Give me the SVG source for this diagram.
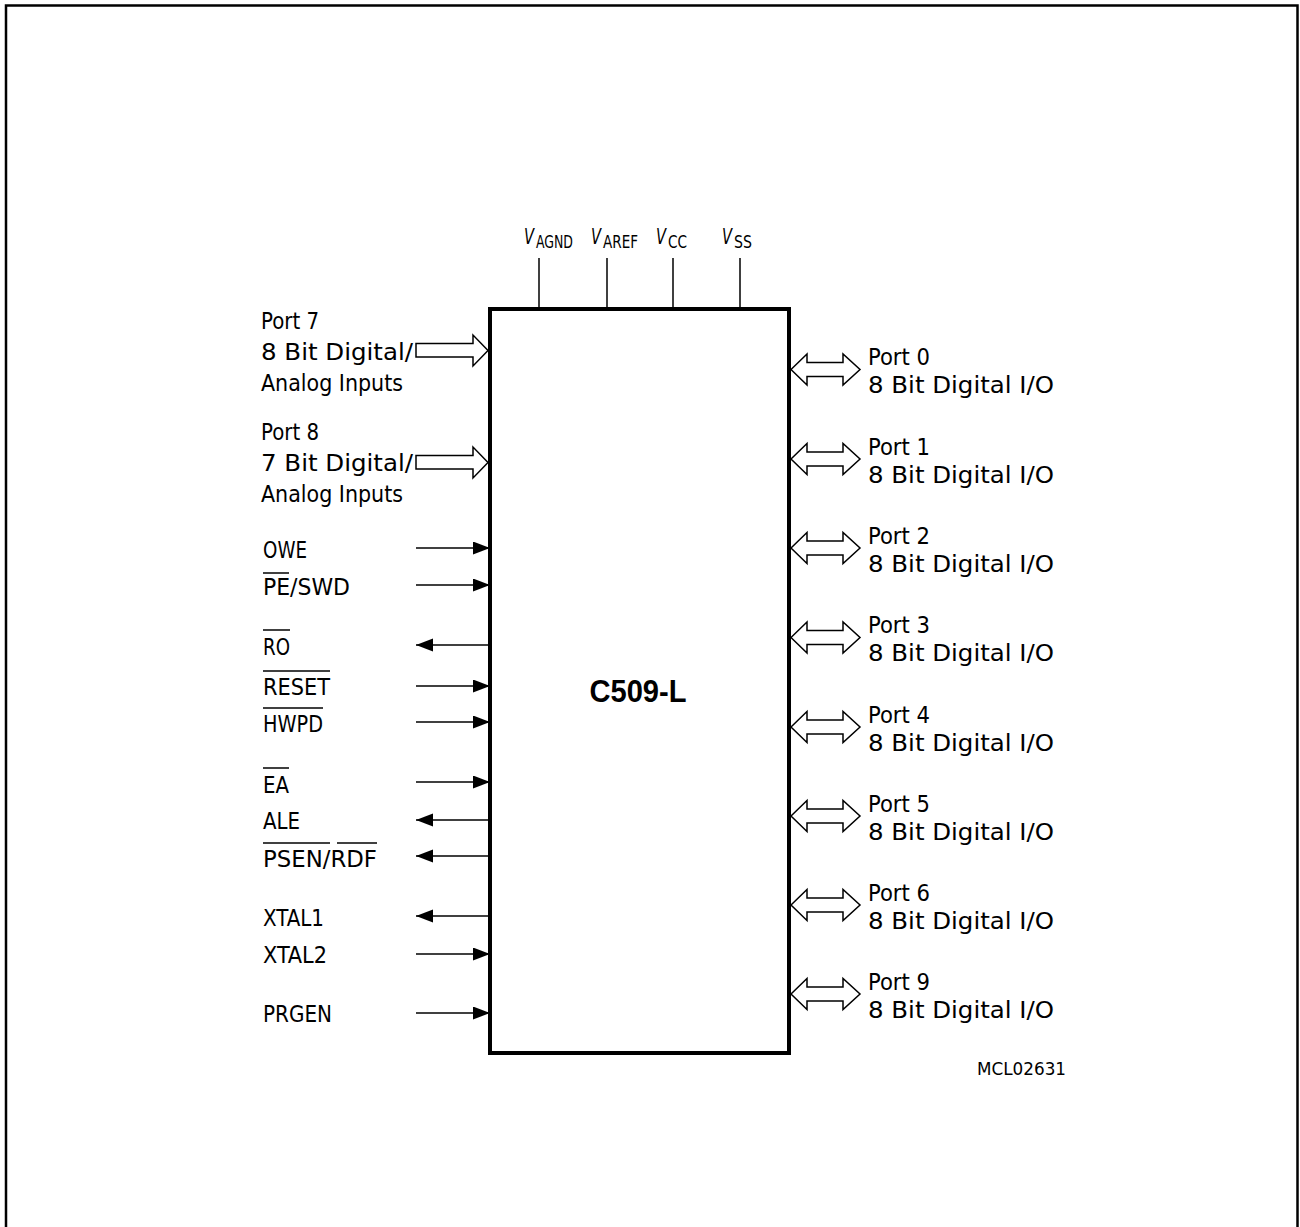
<svg xmlns="http://www.w3.org/2000/svg" width="1300" height="1227" viewBox="0 0 1300 1227">
<defs>
<style>
.t{font-family:"DejaVu Sans Condensed","DejaVu Sans",sans-serif;font-stretch:condensed;font-size:23px;fill:#000}
.s{font-family:"DejaVu Sans Condensed","DejaVu Sans",sans-serif;font-stretch:condensed;fill:#000}
.ln{stroke:#000;stroke-width:1.5;fill:none}
.ob{stroke:#000;stroke-width:1.5}
.ha{fill:#fff;stroke:#000;stroke-width:1.5;stroke-linejoin:miter}
</style>
<marker id="ah" markerUnits="userSpaceOnUse" markerWidth="18" markerHeight="14" refX="17" refY="6.5" orient="auto">
<path d="M0,0 L17,6.5 L0,13 Z" fill="#000"/>
</marker>
</defs>
<rect width="1300" height="1227" fill="#fff"/>
<path d="M6,1227 V5.5 H1297.5 V1227" fill="none" stroke="#000" stroke-width="2.5"/>

<g id="chip">
<rect x="490" y="309" width="299" height="744" fill="#fff" stroke="#000" stroke-width="4"/>
<text x="638" y="702" text-anchor="middle" font-family="Liberation Sans, Arial, sans-serif" font-weight="bold" font-size="31" textLength="97" lengthAdjust="spacingAndGlyphs">C509-L</text>
</g>

<g id="connectors">
<line class="ln" x1="539" y1="258" x2="539" y2="309"/>
<line class="ln" x1="607" y1="258" x2="607" y2="309"/>
<line class="ln" x1="673" y1="258" x2="673" y2="309"/>
<line class="ln" x1="740" y1="258" x2="740" y2="309"/>
<polygon class="ha" points="416,343.5 473,343.5 473,335 488,350.5 473,366 473,357 416,357"/>
<polygon class="ha" points="416,455.5 473,455.5 473,447 488,462.5 473,478 473,469 416,469"/>
<line class="ln" x1="416" y1="548" x2="490" y2="548" marker-end="url(#ah)"/>
<line class="ln" x1="416" y1="585" x2="490" y2="585" marker-end="url(#ah)"/>
<line class="ln" x1="490" y1="645" x2="416" y2="645" marker-end="url(#ah)"/>
<line class="ln" x1="416" y1="686" x2="490" y2="686" marker-end="url(#ah)"/>
<line class="ln" x1="416" y1="722" x2="490" y2="722" marker-end="url(#ah)"/>
<line class="ln" x1="416" y1="782" x2="490" y2="782" marker-end="url(#ah)"/>
<line class="ln" x1="490" y1="820" x2="416" y2="820" marker-end="url(#ah)"/>
<line class="ln" x1="490" y1="856" x2="416" y2="856" marker-end="url(#ah)"/>
<line class="ln" x1="490" y1="916" x2="416" y2="916" marker-end="url(#ah)"/>
<line class="ln" x1="416" y1="954" x2="490" y2="954" marker-end="url(#ah)"/>
<line class="ln" x1="416" y1="1013" x2="490" y2="1013" marker-end="url(#ah)"/>
<g id="bidir">
<polygon class="ha" transform="translate(0,369.5)" points="791,0 807,-15.5 807,-7 843,-7 843,-15.5 860,0 843,15.5 843,7 807,7 807,15.5"/>
<polygon class="ha" transform="translate(0,459)" points="791,0 807,-15.5 807,-7 843,-7 843,-15.5 860,0 843,15.5 843,7 807,7 807,15.5"/>
<polygon class="ha" transform="translate(0,548)" points="791,0 807,-15.5 807,-7 843,-7 843,-15.5 860,0 843,15.5 843,7 807,7 807,15.5"/>
<polygon class="ha" transform="translate(0,637.5)" points="791,0 807,-15.5 807,-7 843,-7 843,-15.5 860,0 843,15.5 843,7 807,7 807,15.5"/>
<polygon class="ha" transform="translate(0,727)" points="791,0 807,-15.5 807,-7 843,-7 843,-15.5 860,0 843,15.5 843,7 807,7 807,15.5"/>
<polygon class="ha" transform="translate(0,816)" points="791,0 807,-15.5 807,-7 843,-7 843,-15.5 860,0 843,15.5 843,7 807,7 807,15.5"/>
<polygon class="ha" transform="translate(0,905)" points="791,0 807,-15.5 807,-7 843,-7 843,-15.5 860,0 843,15.5 843,7 807,7 807,15.5"/>
<polygon class="ha" transform="translate(0,994)" points="791,0 807,-15.5 807,-7 843,-7 843,-15.5 860,0 843,15.5 843,7 807,7 807,15.5"/>
</g>
</g>

<g id="supply">
<g id="vagnd"><text class="s" x="524" y="244" font-size="21" font-style="italic" textLength="10" lengthAdjust="spacingAndGlyphs">V</text><text class="s" x="536" y="248" font-size="17" textLength="37" lengthAdjust="spacingAndGlyphs">AGND</text></g>
<g id="varef"><text class="s" x="591" y="244" font-size="21" font-style="italic" textLength="10" lengthAdjust="spacingAndGlyphs">V</text><text class="s" x="603" y="248" font-size="17" textLength="35" lengthAdjust="spacingAndGlyphs">AREF</text></g>
<g id="vcc"><text class="s" x="656" y="244" font-size="21" font-style="italic" textLength="10" lengthAdjust="spacingAndGlyphs">V</text><text class="s" x="668" y="248" font-size="17" textLength="19" lengthAdjust="spacingAndGlyphs">CC</text></g>
<g id="vss"><text class="s" x="722" y="244" font-size="21" font-style="italic" textLength="10" lengthAdjust="spacingAndGlyphs">V</text><text class="s" x="734" y="248" font-size="17" textLength="18" lengthAdjust="spacingAndGlyphs">SS</text></g>
</g>

<g id="port7">
<text class="t" x="261" y="329" textLength="58" lengthAdjust="spacingAndGlyphs">Port 7</text>
<text class="t" x="261" y="360" textLength="152" lengthAdjust="spacingAndGlyphs">8 Bit  Digital/</text>
<text class="t" x="261" y="391" textLength="142" lengthAdjust="spacingAndGlyphs">Analog  Inputs</text>
</g>
<g id="port8">
<text class="t" x="261" y="440" textLength="58" lengthAdjust="spacingAndGlyphs">Port 8</text>
<text class="t" x="261" y="471" textLength="152" lengthAdjust="spacingAndGlyphs">7 Bit  Digital/</text>
<text class="t" x="261" y="502" textLength="142" lengthAdjust="spacingAndGlyphs">Analog  Inputs</text>
</g>

<g id="owe"><text class="t" x="263" y="558" textLength="44" lengthAdjust="spacingAndGlyphs">OWE</text></g>
<g id="pe"><text class="t" x="263" y="595" textLength="87" lengthAdjust="spacingAndGlyphs">PE/SWD</text><line class="ob" x1="263" y1="573" x2="289" y2="573"/></g>
<g id="ro"><text class="t" x="263" y="655" textLength="27" lengthAdjust="spacingAndGlyphs">RO</text><line class="ob" x1="263" y1="630" x2="290" y2="630"/></g>
<g id="reset"><text class="t" x="263" y="695" textLength="67" lengthAdjust="spacingAndGlyphs">RESET</text><line class="ob" x1="263" y1="671" x2="330" y2="671"/></g>
<g id="hwpd"><text class="t" x="263" y="732" textLength="60" lengthAdjust="spacingAndGlyphs">HWPD</text><line class="ob" x1="263" y1="708" x2="323" y2="708"/></g>
<g id="ea"><text class="t" x="263" y="793" textLength="26" lengthAdjust="spacingAndGlyphs">EA</text><line class="ob" x1="263" y1="768" x2="289" y2="768"/></g>
<g id="ale"><text class="t" x="263" y="829" textLength="37" lengthAdjust="spacingAndGlyphs">ALE</text></g>
<g id="psen"><text class="t" x="263" y="867" textLength="114" lengthAdjust="spacingAndGlyphs">PSEN/RDF</text><line class="ob" x1="263" y1="843" x2="330" y2="843"/><line class="ob" x1="337" y1="843" x2="377" y2="843"/></g>
<g id="xtal1"><text class="t" x="263" y="926" textLength="61" lengthAdjust="spacingAndGlyphs">XTAL1</text></g>
<g id="xtal2"><text class="t" x="263" y="963" textLength="64" lengthAdjust="spacingAndGlyphs">XTAL2</text></g>
<g id="prgen"><text class="t" x="263" y="1022" textLength="69" lengthAdjust="spacingAndGlyphs">PRGEN</text></g>

<g id="port0"><text class="t" x="868" y="365" textLength="62" lengthAdjust="spacingAndGlyphs">Port 0</text><text class="t" x="868" y="393" textLength="186" lengthAdjust="spacingAndGlyphs">8 Bit  Digital  I/O</text></g>
<g id="port1"><text class="t" x="868" y="454.5" textLength="62" lengthAdjust="spacingAndGlyphs">Port 1</text><text class="t" x="868" y="482.5" textLength="186" lengthAdjust="spacingAndGlyphs">8 Bit  Digital  I/O</text></g>
<g id="port2"><text class="t" x="868" y="543.5" textLength="62" lengthAdjust="spacingAndGlyphs">Port 2</text><text class="t" x="868" y="571.5" textLength="186" lengthAdjust="spacingAndGlyphs">8 Bit  Digital  I/O</text></g>
<g id="port3"><text class="t" x="868" y="633" textLength="62" lengthAdjust="spacingAndGlyphs">Port 3</text><text class="t" x="868" y="661" textLength="186" lengthAdjust="spacingAndGlyphs">8 Bit  Digital  I/O</text></g>
<g id="port4"><text class="t" x="868" y="722.5" textLength="62" lengthAdjust="spacingAndGlyphs">Port 4</text><text class="t" x="868" y="750.5" textLength="186" lengthAdjust="spacingAndGlyphs">8 Bit  Digital  I/O</text></g>
<g id="port5"><text class="t" x="868" y="811.5" textLength="62" lengthAdjust="spacingAndGlyphs">Port 5</text><text class="t" x="868" y="839.5" textLength="186" lengthAdjust="spacingAndGlyphs">8 Bit  Digital  I/O</text></g>
<g id="port6"><text class="t" x="868" y="900.5" textLength="62" lengthAdjust="spacingAndGlyphs">Port 6</text><text class="t" x="868" y="928.5" textLength="186" lengthAdjust="spacingAndGlyphs">8 Bit  Digital  I/O</text></g>
<g id="port9"><text class="t" x="868" y="989.5" textLength="62" lengthAdjust="spacingAndGlyphs">Port 9</text><text class="t" x="868" y="1017.5" textLength="186" lengthAdjust="spacingAndGlyphs">8 Bit  Digital  I/O</text></g>

<text class="s" x="977" y="1075" font-size="18" textLength="89" lengthAdjust="spacingAndGlyphs">MCL02631</text>
</svg>
